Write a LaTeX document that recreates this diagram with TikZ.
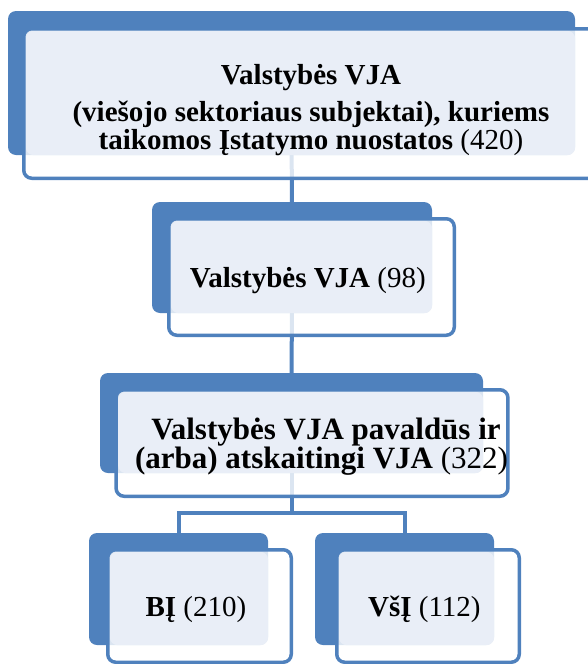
\documentclass[tikz,border=0pt]{standalone}
\usepackage{fontspec}
\setmainfont{Liberation Serif}
\usetikzlibrary{backgrounds,calc}
\definecolor{boxblue}{HTML}{4F81BD}
\definecolor{boxlight}{HTML}{E9EEF7}

\begin{document}
\begin{tikzpicture}[x=1pt,y=-1pt,
    backbox/.style={rectangle,rounded corners=8pt,fill=boxblue,inner sep=0pt},
    frontbox/.style={rectangle,rounded corners=8pt,draw=boxblue,line width=3.5pt,
      fill=white,fill opacity=0.8,text opacity=1,inner sep=0pt,align=center,
      text depth=0pt,font=\fontsize{29}{28}\selectfont\bfseries,
      path picture={\fill[boxlight,fill opacity=1,rounded corners=8pt]
        ($(path picture bounding box.north west)+(2,2)$) rectangle (#1.south east);}},
    conn/.style={draw=boxblue,line width=4pt}]
  \useasboundingbox (0,0) rectangle (588,664);

  % back plates
  \node[backbox,minimum width=567pt,minimum height=144pt] (allbg) at (291.5,83) {};
  \node[backbox,minimum width=280pt,minimum height=111pt] (vjabg) at (292,257.5) {};
  \node[backbox,minimum width=383pt,minimum height=100pt] (subbg) at (291.5,423) {};
  \node[backbox,minimum width=179pt,minimum height=112pt] (bibg) at (178.5,589) {};
  \node[backbox,minimum width=179pt,minimum height=112pt] (vsibg) at (404.5,589) {};

  % text boxes
  \node[frontbox=allbg,minimum width=574.5pt,minimum height=149.5pt] (all) at (311,103.5) {
    \rule{0pt}{26pt}Valstybės VJA\\[9pt]
    (viešojo sektoriaus subjektai), kuriems\\
    taikomos Įstatymo nuostatos {\mdseries(420)}
  };
  \node[frontbox=vjabg,minimum width=285.5pt,minimum height=116.5pt] (vja) at (311.5,277) {
    Valstybės VJA {\mdseries(98)}
  };
  \node[frontbox=subbg,minimum width=388.5pt,minimum height=106.5pt,
    font=\fontsize{31}{27}\selectfont\bfseries] (sub) at (312,443) {
    \hspace*{28pt}Valstybės VJA pavaldūs ir\\
    \hspace*{19pt}(arba) atskaitingi VJA {\mdseries(322)}
  };
  \node[frontbox=bibg,minimum width=183.5pt,minimum height=112.5pt] (bi) at (199.5,606) {
    BĮ {\mdseries(210)}
  };
  \node[frontbox=vsibg,minimum width=182.5pt,minimum height=112.5pt] (vsi) at (428,606) {
    VšĮ {\mdseries(112)}
  };

  % connectors
  \begin{pgfonlayer}{background}
    \coordinate (fork) at (291.5,513);
    \draw[conn] (allbg) -- (vjabg);
    \draw[conn] (vjabg) -- (subbg);
    \draw[conn] (subbg) -- (fork);
    \foreach \n in {bibg,vsibg} {
      \draw[conn] (fork) -| (\n);
    };
  \end{pgfonlayer}
\end{tikzpicture}
\end{document}
